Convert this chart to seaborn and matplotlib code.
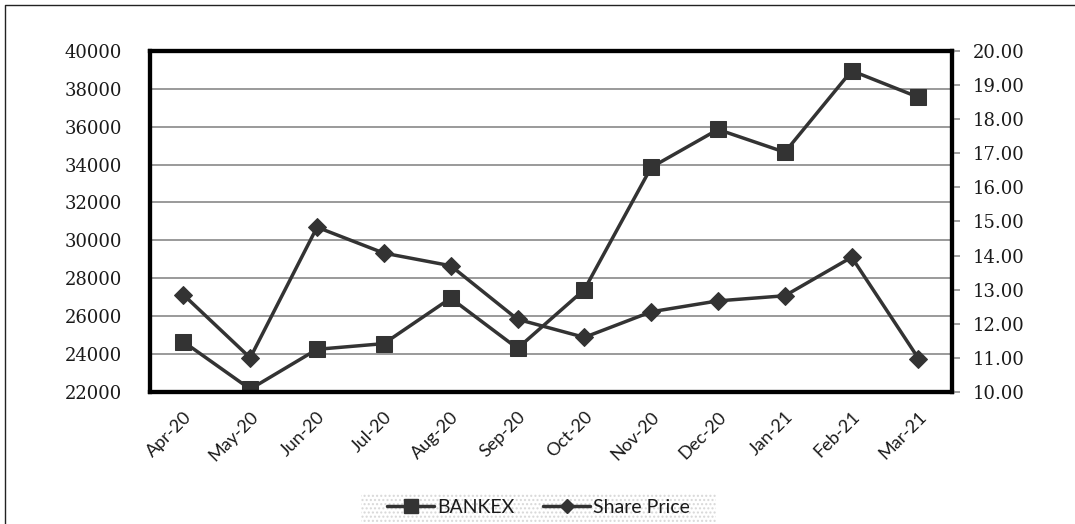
import matplotlib
matplotlib.use('Agg')
import matplotlib.pyplot as plt
import seaborn as sns
from matplotlib.lines import Line2D

# chart values
months = ['Apr-20', 'May-20', 'Jun-20', 'Jul-20', 'Aug-20', 'Sep-20',
          'Oct-20', 'Nov-20', 'Dec-20', 'Jan-21', 'Feb-21', 'Mar-21']
bankex = [24650, 22150, 24250, 24550, 26950, 24300,
          27400, 33850, 35850, 34650, 38950, 37550]
share_price = [12.85, 11.00, 14.83, 14.07, 13.70, 12.13,
               11.60, 12.35, 12.67, 12.82, 13.95, 10.98]
left_ticks = list(range(22000, 40001, 2000))
right_ticks = [10, 11, 12, 13, 14, 15, 16, 17, 18, 19, 20]

sns.set_theme(style='white')
plt.rcParams['font.family'] = ['DejaVu Serif']
plt.rcParams['hatch.color'] = '#c8c8c8'
line_col = '#333333'

fig = plt.figure(figsize=(10.75, 5.24), dpi=100)
ax = fig.add_axes([0.1395, 0.252, 0.746, 0.651])
ax2 = ax.twinx()

sns.lineplot(x=months, y=bankex, ax=ax, color=line_col, linewidth=2.5,
             marker='s', markersize=11, markeredgecolor=line_col, sort=False)
sns.lineplot(x=months, y=share_price, ax=ax2, color=line_col, linewidth=2.5,
             marker='D', markersize=9, markeredgecolor=line_col, sort=False)

ax.tick_params(axis='y', left=False, pad=14)
ax2.tick_params(axis='y', which='both', right=True, length=6, width=1.2,
                color='#909090', pad=9)
ax.tick_params(axis='x', bottom=False, pad=6)

ax.set_xlim(-0.5, len(months) - 0.5)
ax.set_ylim(22000, 40000)
ax.set_yticks(left_ticks)
ax.set_yticklabels([str(v) for v in left_ticks], fontfamily='DejaVu Serif', fontsize=13,
                   color='#1a1a1a')
ax.grid(axis='y', color='#9a9a9a', linewidth=1.4)
ax.set_axisbelow(True)

ax2.set_ylim(10, 20)
ax2.set_yticks(right_ticks)
ax2.set_yticklabels([f'{v:.2f}' for v in right_ticks], fontfamily='DejaVu Serif', fontsize=13,
                    color='#1a1a1a')

ax.set_xticks(range(len(months)))
ax.set_xticklabels(months, rotation=45, ha='right', rotation_mode='anchor',
                   fontfamily='Lato', fontsize=13, color='#1a1a1a')

for a in (ax, ax2):
    for s in a.spines.values():
        s.set_color('black')
        s.set_linewidth(3)

handles = [Line2D([], [], color=line_col, linewidth=2.5, marker='s', markersize=10),
           Line2D([], [], color=line_col, linewidth=2.5, marker='D', markersize=7)]
leg = fig.legend(handles, ['BANKEX', 'Share Price'], loc='center', bbox_to_anchor=(0.501, 0.0315),
                 ncol=2, frameon=True, fancybox=False, handlelength=2.4, columnspacing=1.5,
                 prop={'family': 'Lato', 'size': 14}, borderpad=0.15, handletextpad=0.15,
                 borderaxespad=0)
for t in leg.get_texts():
    t.set_color('#1a1a1a')
frame = leg.get_frame()
frame.set_facecolor('white')
frame.set_edgecolor('#d0d0d0')
frame.set_hatch('....')
frame.set_linewidth(0)
frame.set_boxstyle('square', pad=1.2)
frame.set_mutation_aspect(0.12)

# outer frame of the picture (top and left edges)
fig.add_artist(Line2D([0.005, 0.005, 1.0], [0.0, 0.991, 0.991], transform=fig.transFigure,
                      color='#222222', linewidth=1))

fig.savefig('out.png', dpi=100)
